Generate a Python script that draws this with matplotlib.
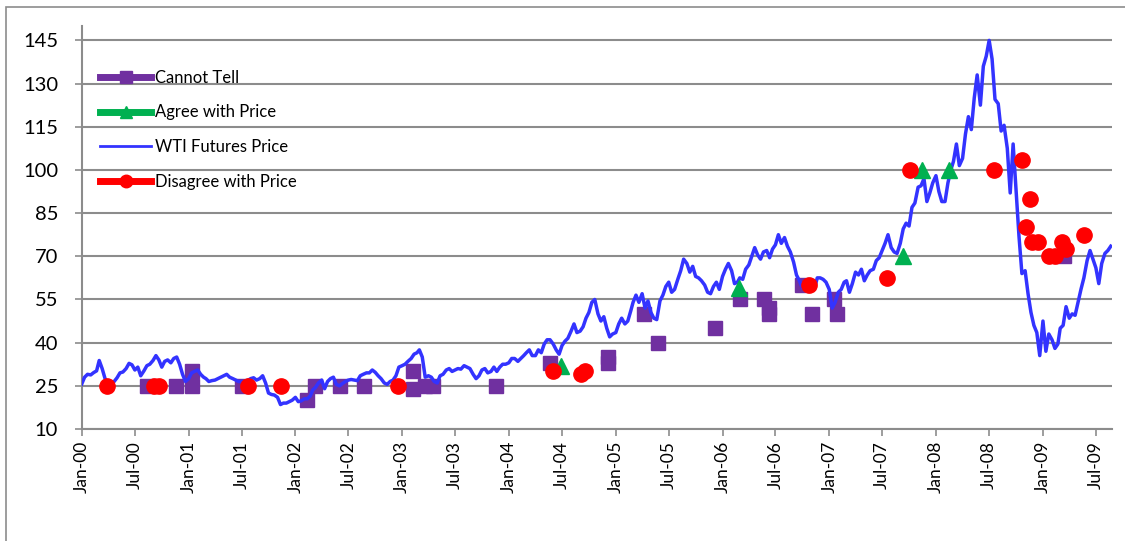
import datetime as dt
import matplotlib
matplotlib.use("Agg")
import matplotlib.pyplot as plt
import matplotlib.dates as mdates
from matplotlib.lines import Line2D
from matplotlib.patches import Rectangle

plt.rcParams['font.family'] = ['Lato', 'DejaVu Sans']

# WTI futures price, read off the chart roughly on the 1st, 11th and 21st of each month
wti_2000 = [25.6, 28.0, 29.0, 28.8, 29.6, 30.2, 33.8, 31.0, 27.5, 26.0, 25.5, 26.5,
            27.8, 29.5, 29.8, 31.0, 32.8, 32.3, 30.5, 31.5, 28.5, 30.2, 32.0, 32.5,
            33.8, 35.5, 34.0, 31.5, 33.5, 34.0, 33.0, 34.5, 35.0, 32.5, 29.0, 26.5]
wti_2001 = [27.5, 29.5, 30.0, 30.5, 29.0, 28.0, 27.5, 26.5, 26.8, 27.0, 27.5, 28.0,
            28.5, 29.0, 28.0, 27.5, 27.0, 26.5, 26.5, 26.0, 26.8, 27.5, 27.8, 27.0,
            27.5, 28.5, 26.0, 22.5, 22.0, 21.8, 21.0, 18.5, 19.0, 19.0, 19.5, 20.0]
wti_2002 = [21.0, 19.5, 19.8, 20.5, 20.5, 21.5, 23.5, 24.5, 26.0, 27.0, 24.0, 26.5,
            27.5, 28.0, 25.5, 25.0, 25.8, 26.5, 27.0, 27.2, 27.0, 26.8, 28.5, 29.0,
            29.5, 29.5, 30.5, 29.7, 28.5, 27.5, 26.0, 25.5, 26.5, 27.0, 28.5, 31.5]
wti_2003 = [32.0, 32.5, 33.5, 34.5, 36.0, 36.5, 37.5, 35.0, 28.0, 28.5, 28.0, 26.5,
            26.0, 28.5, 29.0, 30.5, 31.0, 30.0, 30.5, 31.0, 30.8, 32.0, 31.5, 31.0,
            29.0, 27.5, 28.5, 30.5, 31.0, 29.5, 30.0, 31.5, 30.0, 31.5, 32.5, 32.5]
wti_2004 = [33.0, 34.5, 34.5, 33.5, 34.5, 35.5, 36.5, 37.5, 35.5, 35.5, 37.5, 36.5,
            39.5, 41.0, 41.0, 39.5, 37.5, 36.0, 39.0, 40.5, 41.5, 44.0, 46.5, 43.5,
            44.0, 45.5, 48.5, 50.5, 54.0, 55.0, 50.0, 47.5, 49.0, 45.0, 42.0, 43.0]
wti_2005 = [43.5, 46.5, 48.5, 46.5, 47.5, 51.0, 54.0, 56.5, 54.0, 57.0, 52.0, 54.5,
            50.5, 48.5, 48.0, 54.5, 56.5, 59.5, 61.0, 57.5, 58.5, 62.0, 65.0, 69.0,
            67.5, 64.5, 66.5, 63.0, 62.5, 61.5, 60.0, 57.5, 57.0, 59.5, 61.0, 58.5]
wti_2006 = [63.0, 65.5, 67.5, 65.0, 60.5, 61.0, 62.5, 62.0, 65.5, 67.0, 70.0, 73.0,
            70.5, 69.0, 71.5, 72.0, 69.5, 72.5, 74.0, 77.5, 74.5, 76.5, 73.5, 71.5,
            68.0, 63.5, 61.5, 59.0, 59.5, 60.0, 58.0, 58.5, 62.5, 62.5, 62.0, 61.0]
wti_2007 = [58.5, 52.0, 54.0, 57.5, 58.5, 61.0, 61.5, 57.5, 60.5, 64.5, 63.5, 65.5,
            61.5, 63.5, 65.0, 65.5, 68.5, 69.5, 72.0, 74.5, 77.5, 73.0, 71.5, 71.0,
            74.5, 79.5, 81.5, 80.5, 87.0, 88.5, 94.0, 94.5, 97.0, 89.0, 92.0, 95.5]
wti_2008 = [98.0, 92.5, 89.0, 89.0, 95.5, 100.0, 103.0, 109.0, 101.5, 104.0, 112.5, 118.5,
            114.0, 125.0, 133.0, 122.5, 136.0, 139.5, 145.0, 138.5, 124.5, 123.0, 113.5, 115.5,
            107.5, 92.0, 109.0, 93.0, 77.0, 64.0, 65.0, 57.0, 50.5, 46.0, 43.5, 35.5]
wti_2009 = [47.5, 37.0, 43.0, 41.0, 38.0, 39.5, 45.0, 46.0, 52.5, 48.5, 50.0, 49.5,
            54.0, 58.5, 62.5, 68.5, 72.0, 69.0, 66.0, 60.5, 67.5, 71.0, 72.0, 73.5]
wti_years = [(2000, wti_2000), (2001, wti_2001), (2002, wti_2002), (2003, wti_2003),
             (2004, wti_2004), (2005, wti_2005), (2006, wti_2006), (2007, wti_2007),
             (2008, wti_2008), (2009, wti_2009)]

cannot_dates = ["2000-08-13", "2000-11-20", "2001-01-14", "2001-01-14", "2001-07-04",
                "2002-02-11", "2002-03-10", "2002-06-03", "2002-08-24", "2003-02-06",
                "2003-02-08", "2003-03-20", "2003-04-17", "2003-11-18", "2004-05-20",
                "2004-12-04", "2004-12-04", "2005-04-06", "2005-05-24", "2005-12-05",
                "2006-03-03", "2006-05-24", "2006-06-10", "2006-06-10", "2006-10-01",
                "2006-11-04", "2007-01-18", "2007-01-28", "2009-03-15"]
cannot_vals = [25, 25, 30, 25, 25, 20, 25, 25, 25, 30, 24, 25, 25, 25, 33,
               35, 33, 50, 40, 45, 55, 55, 52, 50, 60, 50, 55, 50, 70]

agree_dates = ["2004-06-27", "2006-02-25", "2007-09-10", "2007-11-14", "2008-02-14"]
agree_vals = [32, 59, 70, 100, 100]

disagree_dates = ["2000-03-26", "2000-09-03", "2000-09-23", "2001-07-24", "2001-11-14",
                  "2002-12-18", "2004-05-30", "2004-09-03", "2004-09-17", "2006-10-25",
                  "2007-07-18", "2007-10-05", "2008-07-18", "2008-10-21", "2008-11-04",
                  "2008-11-17", "2008-11-24", "2008-12-15", "2009-01-21", "2009-02-11",
                  "2009-03-07", "2009-03-20", "2009-05-21"]
disagree_vals = [25, 25, 25, 25, 25, 25, 30, 29, 30, 60, 62.5, 100, 100, 103.5, 80,
                 90, 75, 75, 70, 70, 75, 72.5, 77.5]

y_ticks = [10, 25, 40, 55, 70, 85, 100, 115, 130, 145]


def to_dates(strs):
    return [dt.datetime.strptime(s, "%Y-%m-%d") for s in strs]


wti_dates = []
wti_vals = []
for year, vals in wti_years:
    for i, v in enumerate(vals):
        wti_dates.append(dt.datetime(year, i // 3 + 1, [1, 11, 21][i % 3]))
        wti_vals.append(v)

PURPLE = "#7030A0"
GREEN = "#00B050"
BLUE = "#3333FF"
RED = "#FF0000"
GRID = "#8C8C8C"

fig = plt.figure(figsize=(11.25, 5.41), dpi=100)
fig.patches.append(Rectangle((0.0053, -0.1), 1.2, 1.087, transform=fig.transFigure,
                             fill=False, edgecolor="#8C8C8C", linewidth=1.2))
ax = fig.add_axes([0.0726, 0.207, 0.9158, 0.745])

ax.plot(wti_dates, wti_vals, color=BLUE, linewidth=2.5, zorder=3)
ax.plot(to_dates(cannot_dates), cannot_vals, linestyle="none", marker="s",
        markersize=10, color=PURPLE, zorder=2)
ax.plot(to_dates(agree_dates), agree_vals, linestyle="none", marker="^",
        markersize=11, color=GREEN, zorder=4)
ax.plot(to_dates(disagree_dates), disagree_vals, linestyle="none", marker="o",
        markersize=11, color=RED, zorder=5)

ax.set_ylim(10, 150)
ax.set_yticks(y_ticks)
ax.set_xlim(dt.datetime(2000, 1, 1), dt.datetime(2009, 8, 25))
x_ticks = [dt.datetime(y, m, 1) for y in range(2000, 2010) for m in (1, 7)]
ax.set_xticks(x_ticks)
ax.xaxis.set_major_formatter(mdates.DateFormatter("%b-%y"))
plt.setp(ax.get_xticklabels(), rotation=90, fontsize=12.5)
plt.setp(ax.get_yticklabels(), fontsize=14.5)

ax.yaxis.grid(True, color=GRID, linewidth=1.5)
ax.set_axisbelow(True)
for s in ("top", "right"):
    ax.spines[s].set_visible(False)
for s in ("left", "bottom"):
    ax.spines[s].set_color(GRID)
    ax.spines[s].set_linewidth(1.5)
ax.tick_params(axis="both", color=GRID, width=1.2, length=5)
ax.tick_params(axis="y", pad=12)

handles = [
    Line2D([], [], color=PURPLE, linewidth=5, marker="s", markersize=9),
    Line2D([], [], color=GREEN, linewidth=5, marker="^", markersize=9),
    Line2D([], [], color=BLUE, linewidth=2),
    Line2D([], [], color=RED, linewidth=5, marker="o", markersize=9),
]
labels = ["Cannot Tell", "Agree with Price", "WTI Futures Price", "Disagree with Price"]
ax.legend(handles, labels, loc="upper left", bbox_to_anchor=(0.011, 0.908), frameon=False,
          fontsize=12, handlelength=3.1, handletextpad=0.2, labelspacing=1.12,
          borderaxespad=0)

fig.savefig("out.png", dpi=100)
